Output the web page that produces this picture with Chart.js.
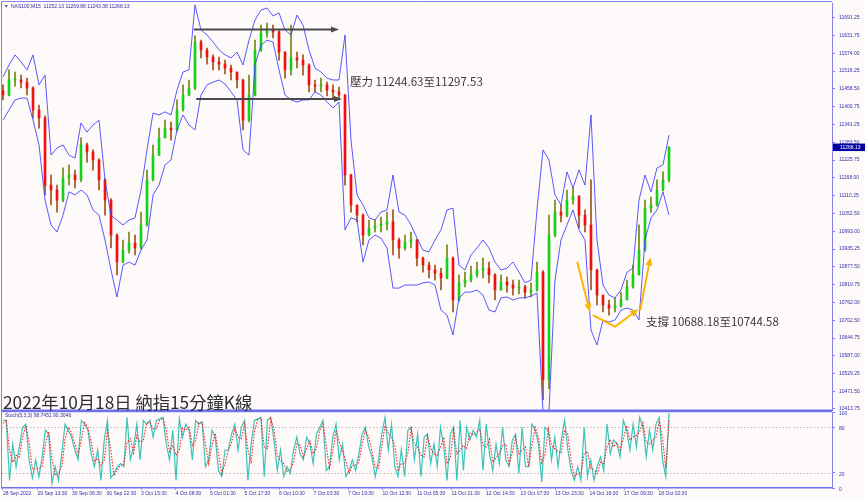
<!DOCTYPE html>
<html>
<head>
<meta charset="utf-8">
<script src="https://cdn.jsdelivr.net/npm/chart.js@4.4.1/dist/chart.umd.min.js"></script>
<style>
  html, body { margin: 0; padding: 0; background: #fffafa; }
  #wrap { position: relative; width: 865px; height: 501px; overflow: hidden; }
  #main { position: absolute; left: 0; top: 0; }
  #stoch { position: absolute; left: 0; top: 411px; }
</style>
</head>
<body>
<div id="wrap">
  <canvas id="main" width="865" height="411"></canvas>
  <canvas id="stoch" width="865" height="90"></canvas>
</div>
<script>
// NAS100 M15 - precios (una vela cada ~6 px)
const firstOpen = 11452;
const closes = [
  11438, 11487, 11487, 11480, 11461, 11389, 11363, 11144, 11128, 11095,
  11167, 11177, 11161, 11275, 11252, 11226, 11161, 11095, 10981, 10893,
  10932, 10955, 10939, 11014, 11161, 11242, 11298, 11330, 11324, 11389,
  11438, 11461, 11611, 11585, 11562, 11546, 11539, 11526, 11513, 11487,
  11356, 11438, 11585, 11640, 11650, 11644, 11578, 11520, 11559, 11552,
  11536, 11471, 11467, 11471, 11454, 11448, 11438, 11177, 11079, 11046,
  10981, 11004, 11011, 11017, 11024, 10965, 10939, 10958, 10965, 10906,
  10883, 10867, 10857, 10841, 10906, 10769, 10825, 10834, 10851, 10867,
  10873, 10851, 10802, 10828, 10818, 10808, 10812, 10795, 10802, 10860,
  10508, 10981, 11056, 11046, 11095, 11108, 11046, 11014, 10867, 10785,
  10753, 10743, 10750, 10769, 10812, 10851, 10932, 11069, 11079, 11128,
  11161, 11268.13
];
const highs = [
  11471, 11520, 11513, 11503, 11493, 11465, 11405, 11370, 11177, 11144,
  11200, 11210, 11193, 11298, 11281, 11259, 11230, 11165, 11100, 10985,
  10965, 10991, 10981, 11056, 11193, 11275, 11330, 11356, 11350, 11422,
  11471, 11487, 11631, 11617, 11591, 11569, 11562, 11552, 11536, 11513,
  11490, 11503, 11617, 11666, 11673, 11666, 11648, 11580, 11666, 11578,
  11569, 11540, 11487, 11493, 11480, 11471, 11464, 11440, 11180, 11079,
  11050, 11030, 11030, 11040, 11056, 11063, 10971, 10981, 10991, 10968,
  10909, 10893, 10883, 10873, 10949, 10910, 10851, 10860, 10880, 10893,
  10906, 10893, 10855, 10851, 10844, 10834, 10834, 10818, 10825, 10893,
  10865, 11046, 11095, 11079, 11128, 11135, 11110, 11063, 11161, 10870,
  10785, 10769, 10776, 10795, 10834, 10883, 11014, 11095, 11105, 11161,
  11187, 11269.88
];
const lows = [
  11422, 11435, 11467, 11461, 11438, 11363, 11330, 11112, 11079, 11056,
  11090, 11144, 11135, 11155, 11219, 11193, 11128, 11046, 10939, 10851,
  10890, 10922, 10916, 10935, 11010, 11158, 11240, 11298, 11291, 11320,
  11385, 11435, 11455, 11559, 11539, 11520, 11520, 11507, 11487, 11461,
  11324, 11350, 11435, 11580, 11627, 11624, 11552, 11493, 11503, 11526,
  11503, 11448, 11448, 11448, 11435, 11428, 11422, 11144, 11056, 11024,
  10949, 10978, 10991, 10991, 10998, 10916, 10906, 10932, 10939, 10880,
  10860, 10841, 10834, 10802, 10838, 10730, 10765, 10812, 10828, 10844,
  10841, 10825, 10769, 10800, 10795, 10785, 10789, 10776, 10779, 10798,
  10443, 10480, 10975, 11024, 11040, 11082, 11004, 10991, 10802, 10753,
  10730, 10720, 10730, 10745, 10785, 10808, 10851, 10928, 11056, 11075,
  11125, 11154
];
const bandUpper = [
  11497, 11536, 11569, 11546, 11520, 11569, 11471, 11503, 11242, 11265,
  11275, 11242, 11232, 11347, 11317, 11340, 11356, 11161, 11046, 11030,
  11014, 11030, 11037, 11128, 11259, 11379, 11373, 11383, 11373, 11454,
  11513, 11520, 11732, 11650, 11634, 11611, 11585, 11569, 11559, 11578,
  11536, 11617, 11683, 11715, 11722, 11696, 11706, 11650, 11634, 11699,
  11666, 11585, 11526, 11513, 11493, 11487, 11487, 11634, 11291, 11112,
  11079, 11037, 11030, 11056, 11063, 11177, 11056, 11046, 11014, 10971,
  10932, 10926, 10965, 10998, 11063, 11069, 10883, 10867, 10916, 10939,
  10965, 10939, 10893, 10867, 10873, 10893, 10860, 10825, 10834, 11063,
  11259, 11226, 11112, 11079, 11187, 11135, 11193, 11144, 11373, 10965,
  10818, 10785, 10776, 10802, 10860, 10873, 11095, 11177, 11122, 11200,
  11210, 11307
];
const bandLower = [
  11356, 11389, 11422, 11428, 11428, 11356, 11275, 11095, 11014, 10991,
  11046, 11122, 11112, 11128, 11112, 11063, 11046, 10965, 10867, 10779,
  10883, 10893, 10883, 10932, 10965, 11112, 11144, 11210, 11226, 11324,
  11373, 11340, 11324, 11438, 11471, 11480, 11487, 11474, 11448, 11422,
  11259, 11242, 11536, 11601, 11617, 11611, 11520, 11438, 11422, 11415,
  11422, 11422, 11448, 11438, 11415, 11396, 11415, 10998, 11037, 11030,
  10893, 10965, 10981, 10971, 10939, 10808, 10808, 10818, 10818, 10818,
  10825, 10828, 10818, 10736, 10720, 10655, 10776, 10795, 10795, 10802,
  10785, 10736, 10730, 10776, 10779, 10769, 10776, 10776, 10782, 10792,
  10405, 10405, 10834, 10965, 11014, 11063, 10998, 10965, 10671, 10622,
  10704, 10697, 10704, 10736, 10743, 10736, 10704, 10965, 11037, 11063,
  11122, 11046
];
const priceTicks = [
  10413.75, 10471.50, 10529.25, 10587.00, 10644.75, 10702.50, 10762.00, 10819.75,
  10877.50, 10935.25, 10993.00, 11052.50, 11110.25, 11168.00, 11225.75, 11283.50,
  11341.25, 11400.75, 11458.50, 11516.25, 11574.00, 11631.75, 11691.25
];
const lastBar = { open: 11252.13, high: 11269.88, low: 11243.38, close: 11268.13 };

// Estocástico (5,3,3): línea principal y señal
const stochK = [
  89, 89, 10, 58, 28, 54, 80, 84, 37, 13, 37, 15, 41, 76, 71, 6, 28, 10, 45, 84,
  76, 67, 50, 37, 89, 84, 76, 45, 28, 50, 10, 63, 89, 13, 19, 28, 32, 28, 93, 37,
  54, 84, 37, 89, 84, 89, 67, 89, 91, 93, 58, 37, 76, 10, 91, 67, 84, 76, 37, 89,
  84, 87, 28, 37, 76, 67, 23, 15, 50, 50, 71, 84, 50, 80, 89, 10, 58, 89, 91, 93,
  15, 89, 93, 63, 23, 50, 15, 28, 19, 50, 67, 45, 37, 67, 58, 32, 71, 80, 89, 23,
  28, 67, 84, 37, 58, 15, 23, 37, 23, 45, 71, 80, 54, 41, 15, 37, 71, 93, 50, 84,
  28, 15, 50, 15, 76, 80, 37, 71, 15, 67, 71, 32, 58, 28, 80, 54, 10, 71, 80, 10,
  89, 23, 80, 63, 76, 67, 89, 23, 84, 45, 23, 58, 32, 80, 37, 28, 63, 71, 19, 80,
  28, 28, 84, 76, 58, 8, 80, 76, 37, 67, 28, 63, 89, 50, 23, 10, 28, 10, 80, 15,
  37, 10, 28, 41, 23, 84, 45, 63, 58, 41, 89, 76, 50, 84, 54, 93, 80, 41, 76, 50,
  84, 93, 37, 15, 98.7451
];
const stochD = [
  85, 89, 50, 34, 43, 41, 67, 82, 60, 25, 25, 26, 28, 58, 74, 38, 17, 19, 28, 64,
  80, 72, 58, 44, 63, 86, 80, 60, 36, 39, 30, 36, 76, 51, 16, 24, 30, 30, 60, 65,
  46, 69, 60, 63, 86, 86, 78, 78, 90, 92, 76, 48, 56, 43, 50, 79, 76, 80, 56, 63,
  86, 86, 58, 32, 56, 72, 45, 19, 32, 50, 60, 78, 67, 65, 84, 50, 34, 74, 90, 92,
  54, 52, 91, 78, 43, 36, 32, 22, 24, 34, 58, 56, 41, 52, 62, 45, 52, 76, 84, 56,
  26, 48, 76, 60, 48, 36, 19, 30, 30, 34, 58, 76, 67, 48, 28, 26, 54, 82, 72, 67,
  56, 22, 32, 32, 46, 78, 58, 54, 43, 41, 69, 52, 45, 43, 54, 67, 32, 40, 76, 45,
  50, 56, 52, 72, 70, 72, 78, 56, 54, 64, 34, 40, 45, 56, 58, 32, 46, 67, 45, 50,
  54, 28, 56, 80, 67, 33, 44, 78, 56, 52, 48, 46, 76, 70, 36, 16, 19, 19, 45, 48,
  26, 24, 19, 34, 32, 54, 64, 54, 60, 50, 65, 82, 63, 67, 69, 74, 86, 60, 58, 63,
  67, 88, 65, 26, 90.3046
];
const stochLevels = [20, 80];
const stochTicks = [0, 20, 80, 100];
const timeLabels = [
  '28 Sep 2022', '29 Sep 13:30', '30 Sep 06:30', '30 Sep 22:30', '3 Oct 15:30',
  '4 Oct 08:30', '5 Oct 01:30', '5 Oct 17:30', '6 Oct 10:30', '7 Oct 03:30',
  '7 Oct 19:30', '10 Oct 12:30', '11 Oct 05:30', '11 Oct 21:30', '12 Oct 14:30',
  '13 Oct 07:30', '13 Oct 23:30', '14 Oct 16:30', '17 Oct 09:30', '18 Oct 02:30'
];

// Anotaciones (en unidades de vela / precio)
const resistArrows = [
  { from: 31.8, to: 56.0, price: 11652 },
  { from: 32.2, to: 56.5, price: 11425 }
];
const supportArrows = [
  [[95.7, 10894], [97.8, 10731]],
  [[98.3, 10720], [102.0, 10682], [105.9, 10739]],
  [[106.2, 10736], [107.9, 10908]]
];
const resistText = '壓力 11244.63至11297.53';
const supportText = '支撐 10688.18至10744.58';
const titleText = '2022年10月18日 納指15分鐘K線';

// Colores y fuentes
const frameColor = '#8080f0';
const axisTextColor = '#2f2fa8';
const smallFont = '"Liberation Sans", Arial, sans-serif';
const cjkFont = '"Noto Sans CJK TC", "Noto Sans", sans-serif';

const opens = closes.map((c, i) => (i === 0 ? firstOpen : closes[i - 1]));
const isUp = closes.map((c, i) => c >= opens[i]);

// Sin relleno extra por las etiquetas del eje vertical
function fixRightAxis(s) {
  s.width = 33;
  s.paddingTop = 0;
  s.paddingBottom = 0;
}

// Dibuja una polilínea con punta de flecha al final
function drawArrow(ctx, pts, color, width, headLen, headHalf) {
  ctx.save();
  ctx.strokeStyle = color;
  ctx.fillStyle = color;
  ctx.lineWidth = width;
  ctx.lineJoin = 'round';
  const n = pts.length;
  const [ex, ey] = pts[n - 1];
  const [px, py] = pts[n - 2];
  const ang = Math.atan2(ey - py, ex - px);
  ctx.beginPath();
  ctx.moveTo(pts[0][0], pts[0][1]);
  for (let k = 1; k < n - 1; k++) ctx.lineTo(pts[k][0], pts[k][1]);
  ctx.lineTo(ex - Math.cos(ang) * headLen * 0.8, ey - Math.sin(ang) * headLen * 0.8);
  ctx.stroke();
  ctx.beginPath();
  ctx.moveTo(ex, ey);
  ctx.lineTo(ex - Math.cos(ang) * headLen - Math.sin(ang) * headHalf, ey - Math.sin(ang) * headLen + Math.cos(ang) * headHalf);
  ctx.lineTo(ex - Math.cos(ang) * headLen + Math.sin(ang) * headHalf, ey - Math.sin(ang) * headLen - Math.cos(ang) * headHalf);
  ctx.closePath();
  ctx.fill();
  ctx.restore();
}

const mainDecor = {
  id: 'mainDecor',
  afterDraw(chart) {
    const ctx = chart.ctx;
    const xs = chart.scales.x;
    const ys = chart.scales.y;
    const area = chart.chartArea;

    // marco
    ctx.save();
    ctx.strokeStyle = frameColor;
    ctx.lineWidth = 1;
    ctx.beginPath();
    ctx.moveTo(1.5, area.bottom);
    ctx.lineTo(1.5, 1.5);
    ctx.lineTo(area.right, 1.5);
    ctx.stroke();
    ctx.fillStyle = '#7070ee';
    ctx.fillRect(1, area.bottom - 0.5, area.right - 1, 1.5);
    ctx.restore();

    // flechas de resistencia
    resistArrows.forEach(a => {
      const y = ys.getPixelForValue(a.price);
      drawArrow(ctx, [[xs.getPixelForValue(a.from), y], [xs.getPixelForValue(a.to), y]], '#4a4a4a', 2, 8, 3);
    });
    // flechas de soporte
    supportArrows.forEach(path => {
      const pts = path.map(p => [xs.getPixelForValue(p[0]), ys.getPixelForValue(p[1])]);
      drawArrow(ctx, pts, '#ffb300', 2, 8, 3.5);
    });

    // textos
    ctx.save();
    ctx.fillStyle = '#3a3a3a';
    ctx.textBaseline = 'middle';
    ctx.font = '11.5px ' + cjkFont;
    ctx.fillText(resistText, 350, 81.5);
    ctx.fillText(supportText, 646, 321.5);
    ctx.fillStyle = '#2e2e2e';
    ctx.font = '17.3px ' + cjkFont;
    ctx.fillText(titleText, 3, 402);

    // cabecera del símbolo
    ctx.fillStyle = axisTextColor;
    ctx.beginPath();
    ctx.moveTo(4.5, 5.2);
    ctx.lineTo(7.8, 5.2);
    ctx.lineTo(6.15, 7.4);
    ctx.closePath();
    ctx.fill();
    ctx.font = '5px ' + smallFont;
    ctx.fillText('NAS100,M15  ' + [lastBar.open, lastBar.high, lastBar.low, lastBar.close].map(v => v.toFixed(2)).join(' '), 11, 6.5);

    // etiqueta del precio actual
    const py = ys.getPixelForValue(lastBar.close);
    ctx.fillStyle = '#00009c';
    ctx.fillRect(area.right + 1, py - 3.5, 865 - area.right - 1, 7.5);
    ctx.fillStyle = '#ffffff';
    ctx.fillText(lastBar.close.toFixed(2), area.right + 8, py + 0.3);
    ctx.restore();
  }
};

new Chart(document.getElementById('main'), {
  type: 'bar',
  data: {
    datasets: [
      {
        type: 'line',
        label: 'Banda superior',
        data: bandUpper.map((v, i) => ({ x: i, y: v })),
        borderColor: 'rgba(60, 60, 255, 0.85)',
        borderWidth: 1,
        pointRadius: 0,
        tension: 0,
        order: 0
      },
      {
        type: 'line',
        label: 'Banda inferior',
        data: bandLower.map((v, i) => ({ x: i, y: v })),
        borderColor: 'rgba(60, 60, 255, 0.85)',
        borderWidth: 1,
        pointRadius: 0,
        tension: 0,
        order: 0
      },
      {
        label: 'Cuerpo',
        data: closes.map((c, i) => ({ x: i, y: [opens[i], c] })),
        backgroundColor: isUp.map(u => (u ? '#18d018' : '#f01010')),
        barThickness: 2,
        minBarLength: 1,
        grouped: false,
        order: 1
      },
      {
        label: 'Mecha',
        data: highs.map((h, i) => ({ x: i, y: [lows[i], h] })),
        backgroundColor: isUp.map(u => (u ? '#6f8a10' : '#a0521a')),
        barThickness: 1,
        grouped: false,
        order: 2
      }
    ]
  },
  options: {
    responsive: false,
    animation: false,
    events: [],
    layout: { padding: { left: 2, top: 3, right: 0, bottom: 1 } },
    plugins: { legend: { display: false }, tooltip: { enabled: false } },
    scales: {
      x: { type: 'linear', display: false, offset: false, min: -0.17, max: 138.17 },
      y: {
        position: 'right',
        min: 10410.2,
        max: 11738.2,
        afterFit: fixRightAxis,
        afterBuildTicks: s => { s.ticks = priceTicks.map(v => ({ value: v })); },
        ticks: {
          autoSkip: false,
          padding: 4,
          color: axisTextColor,
          font: { family: smallFont, size: 5 },
          callback: v => v.toFixed(2)
        },
        grid: { drawOnChartArea: false, tickLength: 3, color: frameColor },
        border: { color: frameColor, width: 1 }
      }
    }
  },
  plugins: [mainDecor]
});

const stochDecor = {
  id: 'stochDecor',
  beforeDatasetsDraw(chart) {
    const ctx = chart.ctx;
    const area = chart.chartArea;
    const ys = chart.scales.y;
    ctx.save();
    ctx.strokeStyle = '#b8b8b8';
    ctx.lineWidth = 1;
    ctx.setLineDash([1.5, 2]);
    stochLevels.forEach(v => {
      const y = Math.round(ys.getPixelForValue(v)) + 0.5;
      ctx.beginPath();
      ctx.moveTo(area.left, y);
      ctx.lineTo(area.right, y);
      ctx.stroke();
    });
    ctx.restore();
  },
  afterDraw(chart) {
    const ctx = chart.ctx;
    const area = chart.chartArea;
    ctx.save();
    ctx.fillStyle = '#7070ee';
    ctx.fillRect(1, 0, area.right - 1, 1.2);
    ctx.strokeStyle = frameColor;
    ctx.beginPath();
    ctx.moveTo(1.5, 0);
    ctx.lineTo(1.5, area.bottom);
    ctx.stroke();
    ctx.fillStyle = axisTextColor;
    ctx.font = '5px ' + smallFont;
    ctx.textBaseline = 'middle';
    const kLast = stochK[stochK.length - 1];
    const dLast = stochD[stochD.length - 1];
    ctx.fillText('Stoch(5,3,3) ' + kLast.toFixed(4) + ' ' + dLast.toFixed(4), 5, 4.5);
    ctx.restore();
  }
};

const labelStep = 10.567;
new Chart(document.getElementById('stoch'), {
  type: 'line',
  data: {
    datasets: [
      {
        label: 'Señal',
        data: stochD.map((v, j) => ({ x: j, y: v })),
        borderColor: '#ff2020',
        borderWidth: 1.1,
        borderDash: [1.5, 1.5],
        pointRadius: 0,
        tension: 0,
        order: 0
      },
      {
        label: 'Principal',
        data: stochK.map((v, j) => ({ x: j, y: v })),
        borderColor: '#3cc4ba',
        borderWidth: 1.2,
        pointRadius: 0,
        tension: 0,
        order: 1
      }
    ]
  },
  options: {
    responsive: false,
    animation: false,
    events: [],
    layout: { padding: { left: 2, top: 1, right: 0, bottom: 0 } },
    plugins: { legend: { display: false }, tooltip: { enabled: false } },
    scales: {
      x: {
        type: 'linear',
        min: -0.306,
        max: 253.9,
        afterFit: s => { s.height = 13; s.paddingLeft = 0; s.paddingRight = 0; },
        afterBuildTicks: s => { s.ticks = timeLabels.map((t, k) => ({ value: k * labelStep })); },
        ticks: {
          autoSkip: false,
          maxRotation: 0,
          align: 'start',
          padding: 1,
          color: axisTextColor,
          font: { family: smallFont, size: 5 },
          callback: (v, idx) => timeLabels[idx]
        },
        grid: { drawOnChartArea: false, tickLength: 2, color: frameColor },
        border: { color: '#7070ee', width: 1.5 }
      },
      y: {
        position: 'right',
        min: 0,
        max: 100,
        afterFit: fixRightAxis,
        afterBuildTicks: s => { s.ticks = stochTicks.map(v => ({ value: v })); },
        ticks: {
          autoSkip: false,
          padding: 4,
          labelOffset: 1.5,
          color: axisTextColor,
          font: { family: smallFont, size: 5 }
        },
        grid: { drawOnChartArea: false, tickLength: 3, color: frameColor },
        border: { color: frameColor, width: 1 }
      }
    }
  },
  plugins: [stochDecor]
});
</script>
</body>
</html>
